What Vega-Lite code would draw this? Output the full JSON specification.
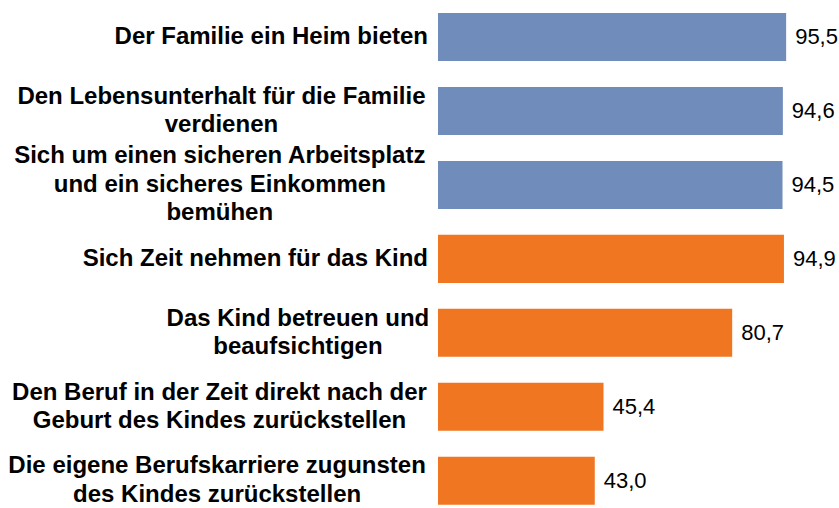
{
  "$schema": "https://vega.github.io/schema/vega-lite/v6.json",
  "width": 401,
  "height": 508,
  "autosize": {"type": "none"},
  "padding": {"left": 438, "top": 0, "right": 0, "bottom": 0},
  "background": "white",
  "config": {
    "view": {"stroke": null},
    "locale": {"number": {"decimal": ",", "thousands": ".", "grouping": [3], "currency": ["", " €"]}}
  },
  "data": {
    "values": [
      {"aufgabe": "Der Familie ein Heim bieten", "zeilen": ["Der Familie ein Heim bieten"], "wert": 95.5, "bereich": "Versorgung"},
      {"aufgabe": "Den Lebensunterhalt für die Familie verdienen", "zeilen": ["Den Lebensunterhalt für die Familie", "verdienen"], "wert": 94.6, "bereich": "Versorgung"},
      {"aufgabe": "Sich um einen sicheren Arbeitsplatz und ein sicheres Einkommen bemühen", "zeilen": ["Sich um einen sicheren Arbeitsplatz", "und ein sicheres Einkommen", "bemühen"], "wert": 94.5, "bereich": "Versorgung"},
      {"aufgabe": "Sich Zeit nehmen für das Kind", "zeilen": ["Sich Zeit nehmen für das Kind"], "wert": 94.9, "bereich": "Betreuung"},
      {"aufgabe": "Das Kind betreuen und beaufsichtigen", "zeilen": ["Das Kind betreuen und", "beaufsichtigen"], "wert": 80.7, "bereich": "Betreuung"},
      {"aufgabe": "Den Beruf in der Zeit direkt nach der Geburt des Kindes zurückstellen", "zeilen": ["Den Beruf in der Zeit direkt nach der", "Geburt des Kindes zurückstellen"], "wert": 45.4, "bereich": "Betreuung"},
      {"aufgabe": "Die eigene Berufskarriere zugunsten des Kindes zurückstellen", "zeilen": ["Die eigene Berufskarriere zugunsten", "des Kindes zurückstellen"], "wert": 43.0, "bereich": "Betreuung"}
    ]
  },
  "encoding": {
    "y": {
      "field": "aufgabe",
      "type": "nominal",
      "sort": null,
      "scale": {"paddingInner": 0.35, "paddingOuter": 0.11, "align": 0.8},
      "axis": null
    }
  },
  "layer": [
    {
      "mark": {"type": "bar"},
      "encoding": {
        "x": {"field": "wert", "type": "quantitative", "scale": {"domain": [0, 110]}, "axis": null},
        "color": {
          "field": "bereich",
          "type": "nominal",
          "scale": {"domain": ["Versorgung", "Betreuung"], "range": ["#708CBA", "#F07622"]},
          "legend": null
        }
      }
    },
    {
      "mark": {"type": "text", "align": "left", "baseline": "middle", "dx": 9, "font": "Liberation Sans", "fontSize": 22, "color": "black"},
      "encoding": {
        "x": {"field": "wert", "type": "quantitative"},
        "text": {"field": "wert", "type": "quantitative", "format": ".1f"}
      }
    },
    {
      "mark": {
        "type": "text",
        "baseline": "middle",
        "font": "Liberation Sans",
        "fontWeight": "bold",
        "fontSize": 24,
        "lineHeight": 28.5,
        "color": "black",
        "align": {"expr": "length(datum.zeilen) > 1 ? 'center' : 'right'"},
        "dx": {"expr": "length(datum.zeilen) > 1 ? -10 - 12 * (0.278 * (length(datum.zeilen[0]) - length(replace(datum.zeilen[0], regexp('[ilj ]', 'g'), ''))) + 0.333 * (length(datum.zeilen[0]) - length(replace(datum.zeilen[0], regexp('[ft]', 'g'), ''))) + 0.389 * (length(datum.zeilen[0]) - length(replace(datum.zeilen[0], regexp('r', 'g'), ''))) + 0.889 * (length(datum.zeilen[0]) - length(replace(datum.zeilen[0], regexp('m', 'g'), ''))) + 0.7 * (length(datum.zeilen[0]) - length(replace(datum.zeilen[0], regexp('[A-Z]', 'g'), ''))) + 0.585 * length(replace(datum.zeilen[0], regexp('[iljftrmA-Z ]', 'g'), ''))) : -10"},
        "dy": {"expr": "-(length(datum.zeilen) - 1) * 14.25"}
      },
      "encoding": {
        "x": {"datum": 0, "type": "quantitative"},
        "text": {"field": "zeilen", "type": "nominal"}
      }
    }
  ]
}
